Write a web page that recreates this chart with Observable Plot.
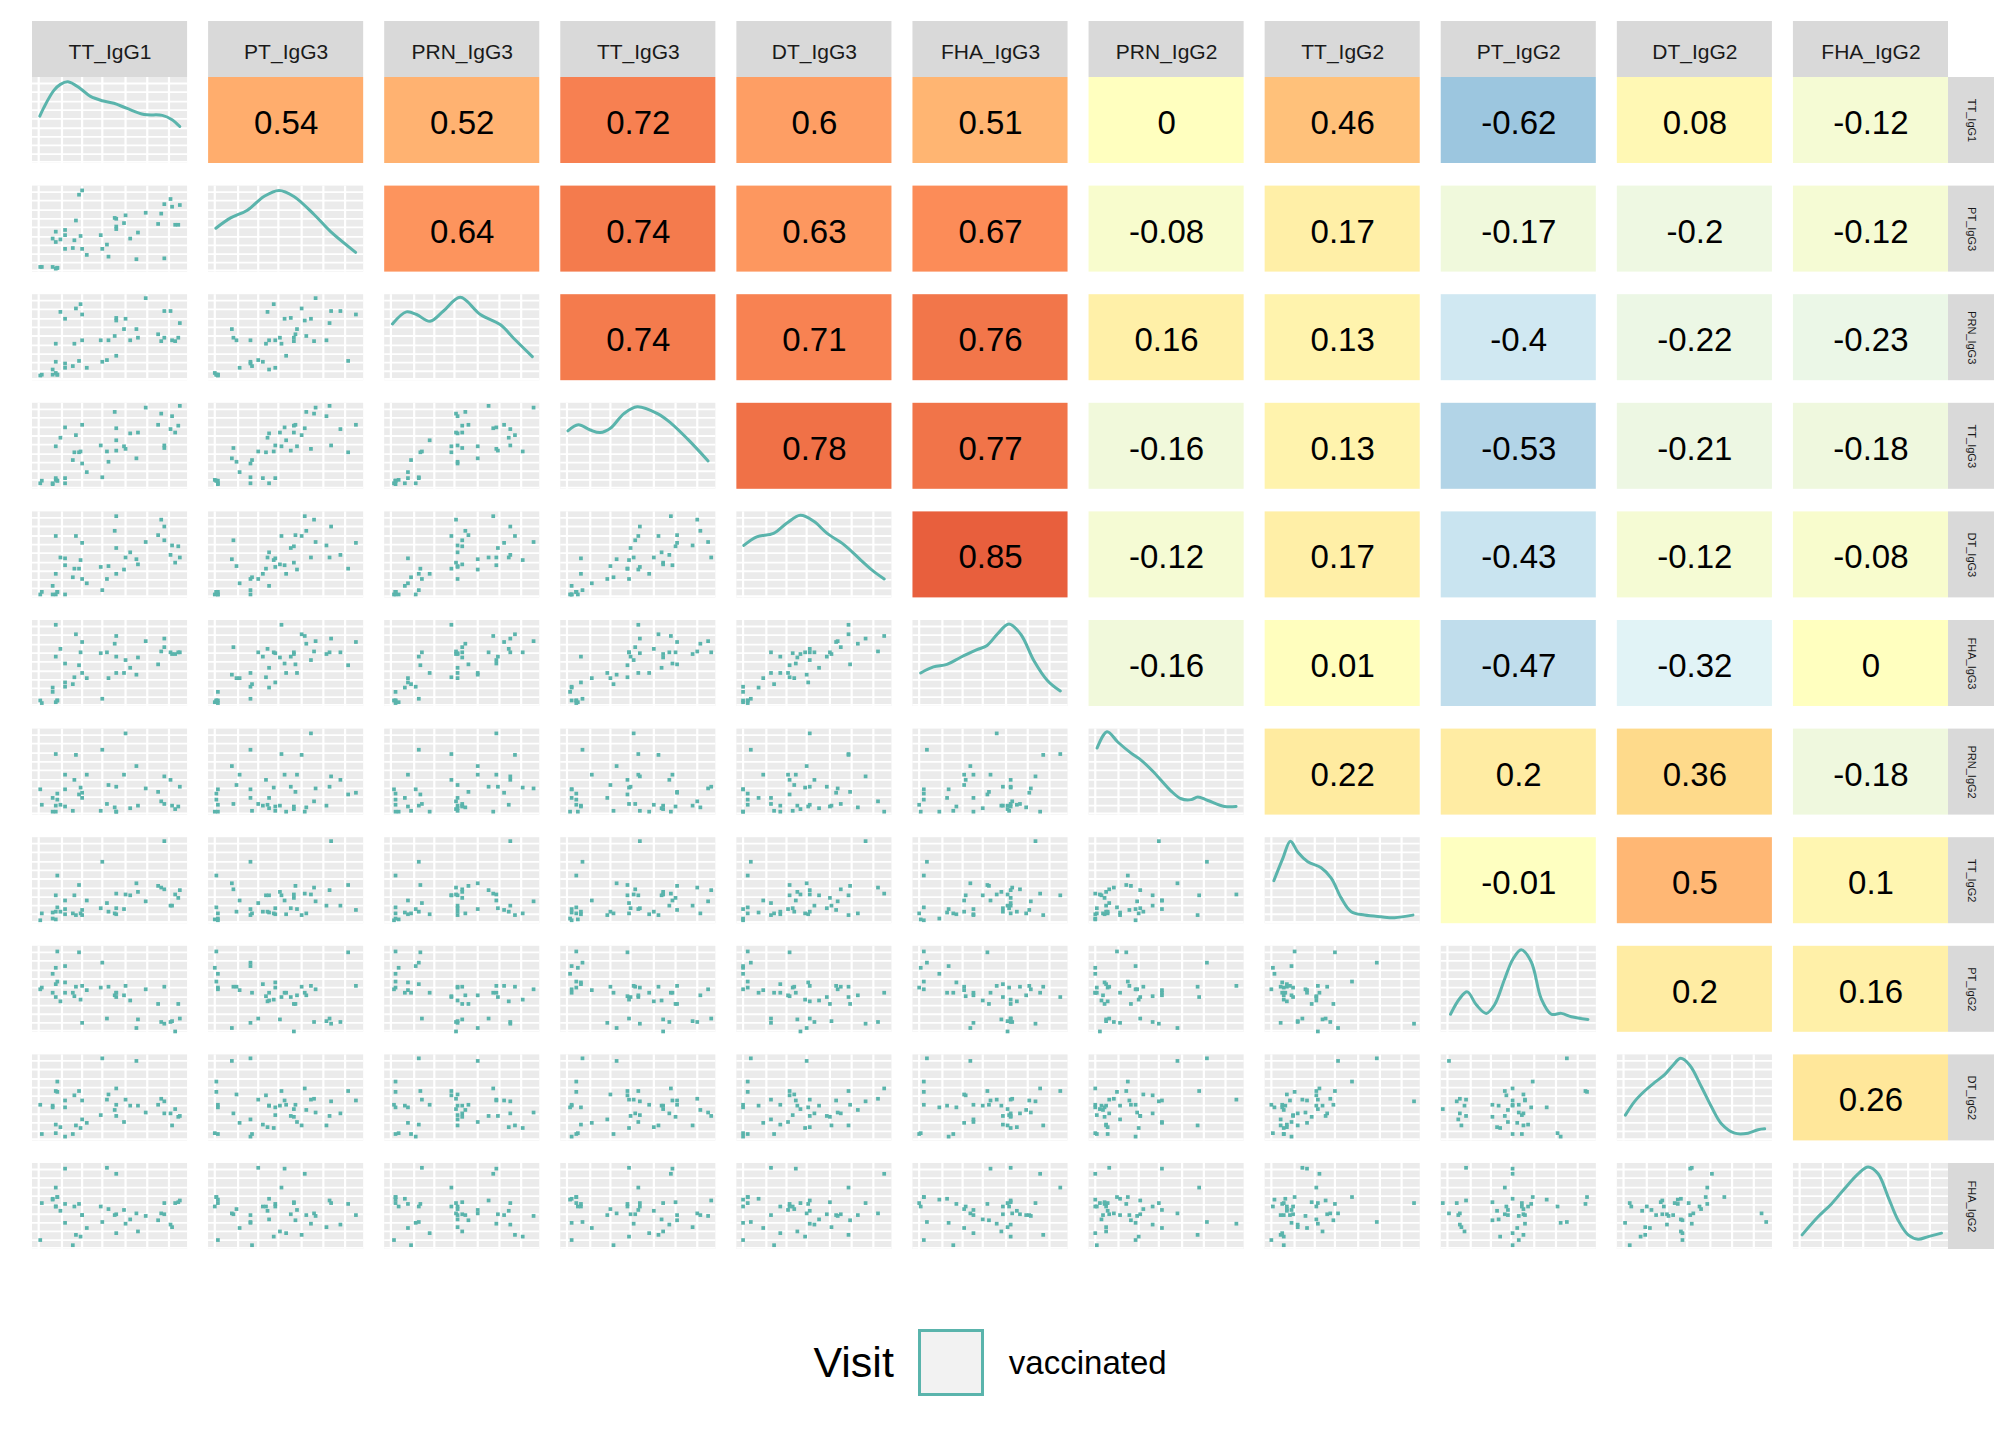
<!DOCTYPE html>
<html>
<head>
<meta charset="utf-8">
<script src="https://cdn.jsdelivr.net/npm/d3@7"></script>
<script src="https://cdn.jsdelivr.net/npm/@observablehq/plot@0.6"></script>
<style>
  html, body { margin: 0; padding: 0; background: #ffffff; }
  body { width: 2016px; font-family: "Liberation Sans", Arial, sans-serif; }
  #legend { display: flex; align-items: center; justify-content: center; width: 1980px; margin-top: 59px; }
  #legend .title { font-size: 43px; color: #000; margin-right: 24px; }
  #legend .key { width: 60px; height: 61px; border: 3px solid #5AB4AC; background: #F2F2F2; }
  #legend .label { font-size: 33px; color: #000; margin-left: 25px; }
</style>
</head>
<body>
<div id="chart"></div>
<div id="legend"><span class="title">Visit</span><span class="key"></span><span class="label">vaccinated</span></div>
<script>
// ---------- variables (facet order) ----------
const variables = ["TT_IgG1","PT_IgG3","PRN_IgG3","TT_IgG3","DT_IgG3","FHA_IgG3","PRN_IgG2","TT_IgG2","PT_IgG2","DT_IgG2","FHA_IgG2"];

// ---------- subject values (read as position within each variable's range, 0-100) ----------
const TT_IgG1  = [5,6,13,13,15,15,15,16,18,21,21,21,26,27,28,30,31,32,32,35,44,45,48,49,53,54,54,54,59,60,63,67,68,73,81,83,85,85,89,90,92,94,95,16];
const PT_IgG3  = [6,6,39,6,47,35,4,5,38,43,49,27,28,37,60,90,42,27,95,20,43,27,32,18,63,53,62,50,57,66,39,15,46,69,56,68,79,16,85,76,55,55,78,5];
const PRN_IgG3 = [6,7,13,7,43,22,9,7,80,15,72,20,17,43,84,23,89,47,77,15,47,22,24,47,52,73,70,29,60,72,47,60,50,96,54,46,81,50,81,47,46,50,67,7];
const TT_IgG3  = [7,10,7,6,50,13,11,10,60,13,72,7,34,43,63,43,44,30,75,20,51,14,44,32,90,45,71,57,50,47,65,36,66,95,75,88,51,48,70,85,66,74,97,10];
const DT_IgG3  = [4,7,14,4,72,28,4,7,47,46,38,4,24,34,72,34,44,22,64,17,36,9,22,37,78,58,95,28,33,47,53,45,39,65,73,91,83,67,50,61,41,60,47,7];
const FHA_IgG3 = [7,4,22,17,95,58,5,7,67,28,50,23,26,34,84,48,63,39,75,33,62,9,63,33,73,58,82,39,39,54,45,37,57,76,49,64,79,69,63,61,61,63,63,7];
const PRN_IgG2 = [30,12,20,4,71,11,4,25,12,10,47,30,5,41,70,24,32,20,26,47,5,76,13,35,9,33,4,4,47,95,8,57,11,31,27,16,45,13,41,11,7,10,33,18];
const TT_IgG2  = [4,12,13,6,33,14,5,56,14,11,27,17,12,33,10,45,12,10,16,27,18,72,24,14,12,18,35,11,17,34,33,47,37,26,44,42,96,40,21,21,34,30,39,19];
const PT_IgG2  = [50,52,46,68,41,56,75,59,36,58,46,77,46,42,53,93,38,11,54,49,52,81,16,53,43,41,46,46,43,54,37,5,15,50,33,12,10,53,12,13,1,33,16,94];
const DT_IgG2  = [42,8,41,39,58,19,9,69,16,39,47,5,8,53,18,58,15,25,47,21,30,96,48,54,36,29,61,42,22,48,41,93,41,33,42,49,46,32,32,18,37,28,29,57];
const FHA_IgG2 = [11,54,59,58,72,50,50,61,45,53,94,31,5,50,17,53,15,40,40,25,50,32,95,47,40,41,88,19,46,30,35,42,21,39,34,42,54,41,29,26,54,55,57,61];

// ---------- density curves on the diagonal: [x, density (0-100 of panel)] ----------
const TT_IgG1_density  = [[4.7,55],[7.3,65],[13.8,85],[18,92],[22.8,95],[31,87],[37.4,78],[45,73],[52.5,70],[61,64],[72,57],[83.7,56],[90,51],[95,43]];
const PT_IgG3_density  = [[4.7,51],[14.2,63],[25,72],[35.7,88],[45.4,95],[55,88],[68,67],[78.7,47],[94.8,23]];
const PRN_IgG3_density = [[5,66],[14,80],[20.6,77],[29.2,69],[37.9,81],[48.7,97],[61.7,77],[74.7,65],[83.3,49],[95.2,28]];
const TT_IgG3_density  = [[4.6,68],[11.3,75],[19,69],[25.4,66],[32,71],[40.7,88],[49.3,96],[62.4,88],[71,77],[82,58],[95,33]];
const DT_IgG3_density  = [[4.5,61],[12.8,71],[23.6,75],[32.3,87],[40.9,96],[49.6,89],[58.2,75],[69,62],[79.9,44],[87.4,32],[95,22]];
const FHA_IgG3_density = [[5,39],[13.2,46],[21.9,49],[30.5,57],[41.3,66],[47.8,71],[54.3,84],[61.9,96],[69.5,84],[78.1,53],[86.8,30],[95,18]];
const PRN_IgG2_density = [[5.2,78],[11.6,97],[18.5,85],[27.1,72],[33.5,64],[42.2,49],[52.9,28],[59.4,19],[65.8,18],[70.1,21],[76.6,17],[87.3,10],[94.8,10]];
const TT_IgG2_density  = [[5.6,50],[11.4,76],[16.3,96],[21.1,83],[27.5,72],[36.1,65],[42.6,53],[49,30],[55.5,14],[64.1,10],[74.8,8],[83.4,7],[95.3,10]];
const PT_IgG2_density  = [[6,21],[11.8,39],[16.8,47],[22.6,32],[29,22],[34.4,32],[40.9,62],[46.2,85],[51.6,96],[58,82],[64.5,39],[71,21],[77.4,22],[83.9,18],[94.6,15]];
const DT_IgG2_density  = [[5.2,30],[11.2,46],[17.6,58],[24.1,68],[30.5,77],[35.9,88],[40.9,96],[46.7,88],[54.2,63],[60.6,40],[67.1,20],[75.7,9],[84.3,9],[90.8,13],[95,14]];
const FHA_IgG2_density = [[5.6,17],[15.9,38],[24.5,53],[33.1,71],[41.7,88],[48.2,96],[54.6,88],[61.1,61],[67.5,34],[74,17],[80.4,12],[86.9,15],[95.5,19]];

// ---------- correlations (upper triangle, row by row) ----------
const correlations = [
  [0.54, 0.52, 0.72, 0.6, 0.51, 0, 0.46, -0.62, 0.08, -0.12],
  [0.64, 0.74, 0.63, 0.67, -0.08, 0.17, -0.17, -0.2, -0.12],
  [0.74, 0.71, 0.76, 0.16, 0.13, -0.4, -0.22, -0.23],
  [0.78, 0.77, -0.16, 0.13, -0.53, -0.21, -0.18],
  [0.85, -0.12, 0.17, -0.43, -0.12, -0.08],
  [-0.16, 0.01, -0.47, -0.32, 0],
  [0.22, 0.2, 0.36, -0.18],
  [-0.01, 0.5, 0.1],
  [0.2, 0.16],
  [0.26]
];

// ---------- panel grid lines (position within panel, 0-100) ----------
const gridX = [4, 19, 32, 45, 60, 74, 88];
const gridY = [2, 11, 21, 31, 41, 52, 62, 72, 83, 93];

const legendTitle = "Visit";
const legendLabel = "vaccinated";

// ---------- build tables ----------
const valuesByVar = {TT_IgG1, PT_IgG3, PRN_IgG3, TT_IgG3, DT_IgG3, FHA_IgG3, PRN_IgG2, TT_IgG2, PT_IgG2, DT_IgG2, FHA_IgG2};
const densityByVar = {TT_IgG1: TT_IgG1_density, PT_IgG3: PT_IgG3_density, PRN_IgG3: PRN_IgG3_density, TT_IgG3: TT_IgG3_density,
  DT_IgG3: DT_IgG3_density, FHA_IgG3: FHA_IgG3_density, PRN_IgG2: PRN_IgG2_density, TT_IgG2: TT_IgG2_density,
  PT_IgG2: PT_IgG2_density, DT_IgG2: DT_IgG2_density, FHA_IgG2: FHA_IgG2_density};

const panels = [], vLines = [], hLines = [], points = [], curves = [], tiles = [];
variables.forEach((rowVar, i) => {
  variables.forEach((colVar, j) => {
    if (j > i) {
      tiles.push({row: rowVar, col: colVar, r: correlations[i][j - i - 1]});
      return;
    }
    panels.push({row: rowVar, col: colVar});
    gridX.forEach(v => vLines.push({row: rowVar, col: colVar, v}));
    gridY.forEach(v => hLines.push({row: rowVar, col: colVar, v}));
    if (i === j) {
      densityByVar[rowVar].forEach(([x, y]) => curves.push({row: rowVar, col: colVar, x, y}));
    } else {
      const xs = valuesByVar[colVar], ys = valuesByVar[rowVar];
      xs.forEach((x, k) => points.push({row: rowVar, col: colVar, x, y: ys[k]}));
    }
  });
});

// ---------- layout ----------
const W = 2016, H = 1270;
const mL = 32, mR = 68, mT = 77, mB = 21;
const fxPad = 21 / 176, fyPad = 22.6 / 108.6;
const n = variables.length;
const fxStep = (W - mL - mR) / (n - fxPad);
const fyStep = (H - mT - mB) / (n - fyPad);
const PW = fxStep * (1 - fxPad);
const PH = fyStep * (1 - fyPad);
const stripTop = 56, stripRight = 46;
const teal = "#5AB4AC";
const font = "Liberation Sans, Arial, sans-serif";

const chart = Plot.plot({
  width: W, height: H,
  marginTop: mT, marginBottom: mB, marginLeft: mL, marginRight: mR,
  style: {fontFamily: font, background: "#ffffff", overflow: "visible"},
  facet: {margin: 0},
  fx: {domain: variables, paddingInner: fxPad, paddingOuter: 0, round: false, axis: null, label: null},
  fy: {domain: variables, paddingInner: fyPad, paddingOuter: 0, round: false, axis: null, label: null},
  x: {domain: [0, 100], axis: null},
  y: {domain: [0, 100], axis: null},
  color: {
    type: "linear",
    domain: [-1, -2/3, -1/3, 0, 1/3, 2/3, 1],
    range: ["#4575b4", "#91bfdb", "#e0f3f8", "#ffffbf", "#fee090", "#fc8d59", "#d73027"],
    interpolate: "lab"
  },
  marks: [
    // grey panel backgrounds (lower triangle + diagonal)
    Plot.rect(panels, {fx: "col", fy: "row", fill: "#EBEBEB"}),
    Plot.ruleX(vLines, {fx: "col", fy: "row", x: "v", stroke: "#ffffff", strokeWidth: 2.2}),
    Plot.ruleY(hLines, {fx: "col", fy: "row", y: "v", stroke: "#ffffff", strokeWidth: 1.8}),
    // correlation tiles
    Plot.rect(tiles, {fx: "col", fy: "row", fill: "r"}),
    Plot.text(tiles, {fx: "col", fy: "row", text: d => String(d.r), frameAnchor: "middle",
      textAnchor: "middle", lineAnchor: "middle", dy: 3, fontSize: 33, fill: "#000000"}),
    // scatter points
    Plot.dot(points, {fx: "col", fy: "row", x: "x", y: "y", symbol: "square", r: 2.1, fill: teal, stroke: "none"}),
    // densities
    Plot.line(curves, {fx: "col", fy: "row", x: "x", y: "y", z: "col", stroke: teal, strokeWidth: 3, curve: "catmull-rom"}),
    // top strips
    Plot.rect(variables, {fx: d => d, fy: () => variables[0], fill: "#D9D9D9", insetTop: -stripTop, insetBottom: PH}),
    Plot.text(variables, {fx: d => d, fy: () => variables[0], text: d => d, frameAnchor: "top",
      textAnchor: "middle", lineAnchor: "middle", dy: -25, fontSize: 21, fill: "#1A1A1A"}),
    // right strips
    Plot.rect(variables, {fy: d => d, fx: () => variables[n - 1], fill: "#D9D9D9", insetLeft: PW, insetRight: -stripRight}),
    Plot.text(variables, {fy: d => d, fx: () => variables[n - 1], text: d => d, frameAnchor: "right",
      textAnchor: "middle", lineAnchor: "middle", rotate: 90, dx: stripRight / 2, fontSize: 11, fill: "#1A1A1A"})
  ]
});
document.getElementById("chart").appendChild(chart);
document.querySelector("#legend .title").textContent = legendTitle;
document.querySelector("#legend .label").textContent = legendLabel;
</script>
</body>
</html>
